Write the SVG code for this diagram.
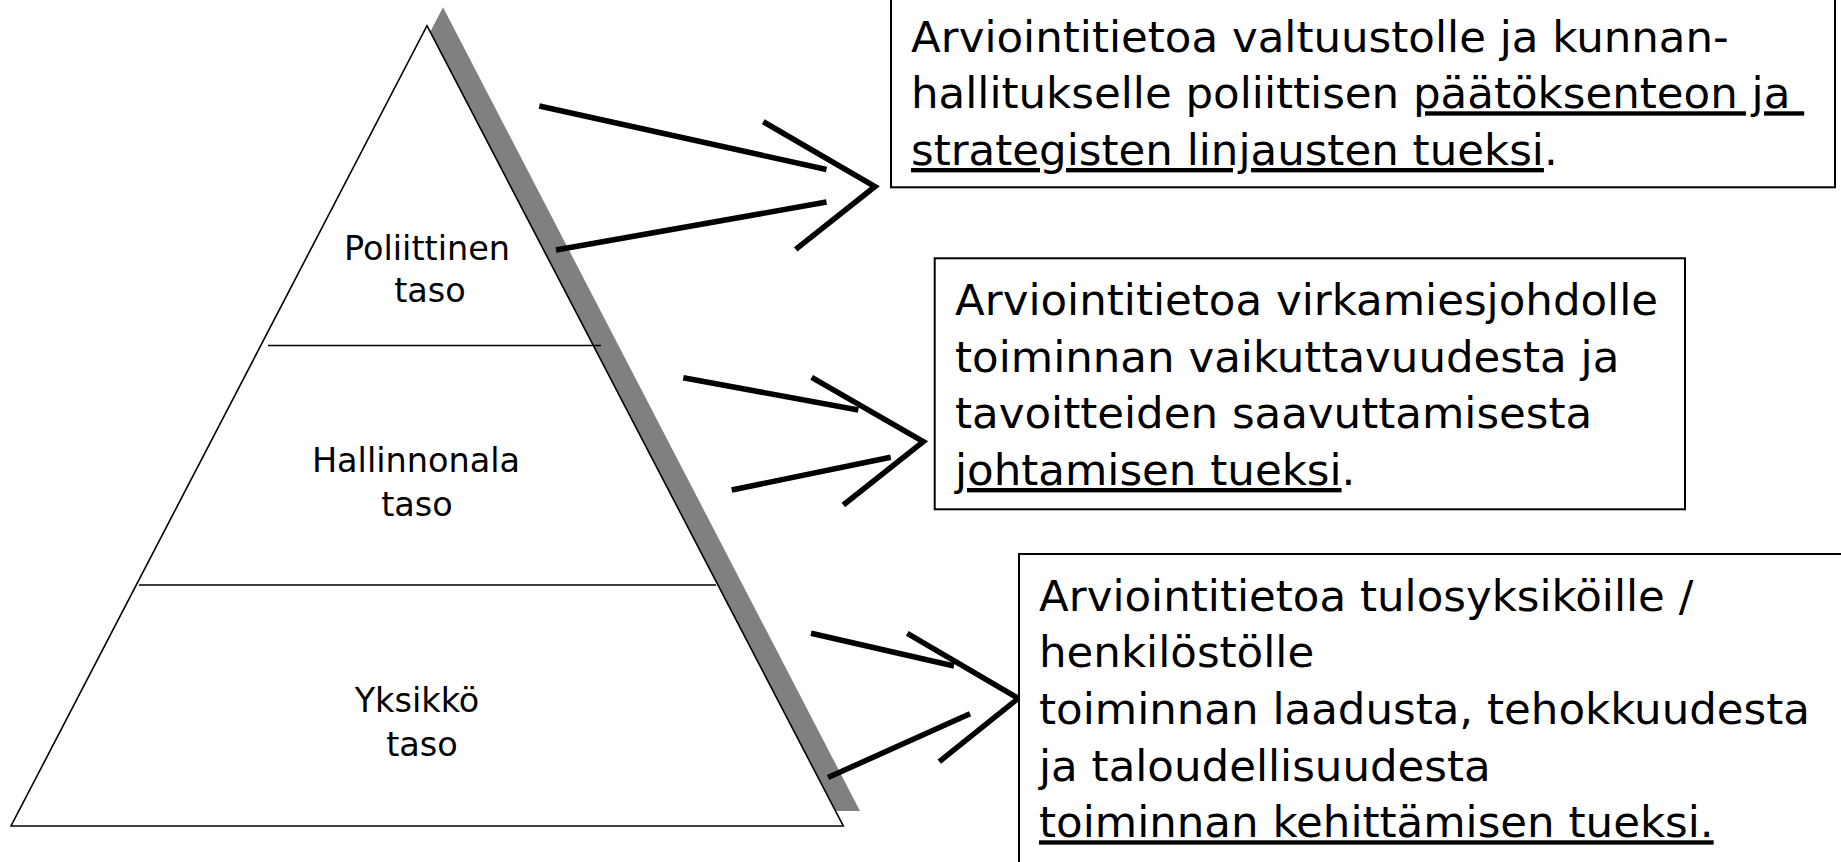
<svg xmlns="http://www.w3.org/2000/svg" width="1841" height="862" viewBox="0 0 1841 862">
  <style>
    .lvl { font-family: "DejaVu Sans", "Liberation Sans", sans-serif; font-size: 33.5px; fill: #000; text-anchor: middle; }
    .box { fill: #fff; stroke: #000; stroke-width: 2; }
    .bt { font-family: "DejaVu Sans", "Liberation Sans", sans-serif; font-size: 43.5px; fill: #000; white-space: pre; }
    .u { text-decoration: underline; }
    .arr { fill: none; stroke: #000; stroke-width: 5.5; stroke-linecap: butt; stroke-linejoin: miter; }
    .div { stroke: #000; stroke-width: 1.5; }
  </style>

  <g id="pyramid">
    <polygon points="443,7.3 860,811 27,811" fill="#808080"/>
    <polygon points="427,25.7 843.3,826 11,826" fill="#fff" stroke="#000" stroke-width="1.6" stroke-linejoin="miter"/>
    <line class="div" x1="268" y1="345.5" x2="601" y2="345.5"/>
    <line class="div" x1="139" y1="585" x2="716" y2="585"/>
  </g>

  <g id="level-poliittinen">
    <text class="lvl" x="427" y="260">Poliittinen</text>
    <text class="lvl" x="430" y="302">taso</text>
  </g>
  <g id="level-hallinnonala">
    <text class="lvl" x="416" y="472">Hallinnonala</text>
    <text class="lvl" x="417" y="516">taso</text>
  </g>
  <g id="level-yksikko">
    <text class="lvl" x="417" y="712">Yksikkö</text>
    <text class="lvl" x="422" y="756">taso</text>
  </g>

  <g id="connectors">
    <line class="arr" x1="539.3" y1="106" x2="826.5" y2="169.5"/>
    <line class="arr" x1="556" y1="250" x2="826.5" y2="202"/>
    <polyline class="arr" points="763.3,121.7 875,186.5 795.7,249.3"/>

    <line class="arr" x1="683.3" y1="377.7" x2="858.3" y2="410"/>
    <line class="arr" x1="731.7" y1="490" x2="890.7" y2="457.3"/>
    <polyline class="arr" points="811.7,377.3 923.3,441.7 843.3,505"/>

    <line class="arr" x1="811" y1="633.3" x2="954" y2="666"/>
    <line class="arr" x1="828" y1="777.5" x2="970" y2="713.8"/>
    <polyline class="arr" points="907.3,633.3 1018.3,698.3 939.3,761.7"/>
  </g>

  <g id="box-politiikka">
    <rect class="box" x="891" y="-20" width="944" height="207.3"/>
    <text class="bt" x="911" y="51.6">Arviointitietoa valtuustolle ja kunnan-</text>
    <text class="bt" x="911" y="108.3" xml:space="preserve">hallitukselle poliittisen <tspan class="u">päätöksenteon ja </tspan></text>
    <text class="bt" x="911" y="165"><tspan class="u">strategisten linjausten tueksi</tspan>.</text>
  </g>

  <g id="box-virkamies">
    <rect class="box" x="934.7" y="258.3" width="750.3" height="251"/>
    <text class="bt" x="955" y="315">Arviointitietoa virkamiesjohdolle</text>
    <text class="bt" x="955" y="371.7">toiminnan vaikuttavuudesta ja</text>
    <text class="bt" x="955" y="428.3">tavoitteiden saavuttamisesta</text>
    <text class="bt" x="955" y="485"><tspan class="u">johtamisen tueksi</tspan>.</text>
  </g>

  <g id="box-yksikko">
    <rect class="box" x="1019" y="554" width="840" height="340"/>
    <text class="bt" x="1039" y="610.7">Arviointitietoa tulosyksiköille /</text>
    <text class="bt" x="1039" y="667.3">henkilöstölle</text>
    <text class="bt" x="1039" y="724">toiminnan laadusta, tehokkuudesta</text>
    <text class="bt" x="1039" y="780.7">ja taloudellisuudesta</text>
    <text class="bt" x="1039" y="837.3"><tspan class="u">toiminnan kehittämisen tueksi.</tspan></text>
  </g>
</svg>
